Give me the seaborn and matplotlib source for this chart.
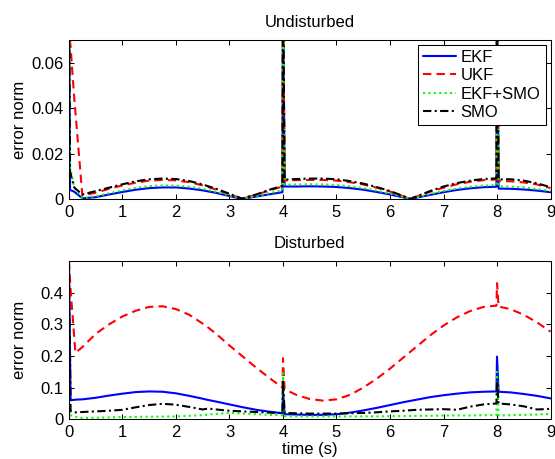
import matplotlib
matplotlib.use("Agg")
import matplotlib.pyplot as plt
import seaborn as sns
import numpy as np

# ---------------- data ----------------
series_names = ["EKF", "UKF", "EKF+SMO", "SMO"]

t_top = [0, 0.02, 0.1, 0.25, 0.5, 0.75, 1.0, 1.25, 1.5, 1.75, 2.0, 2.25, 2.5, 2.75, 3.0, 3.23,
         3.5, 3.75, 3.99, 4.0, 4.03, 4.25, 4.5, 4.75, 5.0, 5.25, 5.5, 5.75, 6.0, 6.25, 6.38,
         6.5, 6.75, 7.0, 7.25, 7.5, 7.75, 7.99, 8.0, 8.03, 8.25, 8.5, 8.75, 9.0]

ekf_top = [0.1, 0.004, 0.0032, 0.0003, 0.0008, 0.002, 0.0031, 0.0041, 0.0048, 0.0051, 0.0051, 0.0046,
           0.0038, 0.0027, 0.0013, 0.0, 0.0011, 0.0021, 0.003, 0.1, 0.0055, 0.0055, 0.0056, 0.0055,
           0.0053, 0.0048, 0.0041, 0.0031, 0.002, 0.0007, 0.0, 0.0006, 0.0018, 0.003, 0.004, 0.0047,
           0.0052, 0.0054, 0.1, 0.0046, 0.0045, 0.0042, 0.0037, 0.003]
ukf_top = [0.1, 0.07, 0.044, 0.0015, 0.0028, 0.0045, 0.006, 0.0072, 0.0081, 0.0084, 0.0082, 0.0074,
           0.006, 0.0042, 0.0021, 0.0002, 0.0019, 0.0038, 0.0055, 0.1, 0.0081, 0.0083, 0.0084, 0.0084,
           0.0081, 0.0074, 0.0064, 0.005, 0.0033, 0.0012, 0.0001, 0.0011, 0.0032, 0.005, 0.0065, 0.0076,
           0.0083, 0.0086, 0.1, 0.0079, 0.0078, 0.0073, 0.0064, 0.0048]
ekfsmo_top = [0.1, 0.014, 0.005, 0.0004, 0.0012, 0.0025, 0.0038, 0.0049, 0.0057, 0.006, 0.0059, 0.0054,
              0.0045, 0.0032, 0.0016, 0.0001, 0.0013, 0.0026, 0.0038, 0.1, 0.0063, 0.0064, 0.0065, 0.0064,
              0.0062, 0.0056, 0.0048, 0.0037, 0.0024, 0.0009, 0.0001, 0.0007, 0.0022, 0.0035, 0.0046, 0.0054,
              0.0059, 0.0061, 0.1, 0.0056, 0.0055, 0.0051, 0.0044, 0.0035]
smo_top = [0.1, 0.012, 0.005, 0.002, 0.0035, 0.005, 0.0065, 0.0078, 0.0087, 0.009, 0.0088, 0.0079,
           0.0064, 0.0045, 0.0023, 0.0002, 0.002, 0.0041, 0.0058, 0.1, 0.0085, 0.0088, 0.009, 0.009,
           0.0087, 0.0079, 0.0068, 0.0053, 0.0035, 0.0013, 0.0001, 0.0012, 0.0035, 0.0055, 0.007, 0.0081,
           0.0088, 0.0091, 0.1, 0.0086, 0.0087, 0.0081, 0.0069, 0.0052]

t_bot = [0, 0.03, 0.12, 0.25, 0.5, 0.75, 1.0, 1.25, 1.5, 1.75, 2.0, 2.25, 2.5, 2.6, 2.75, 3.0, 3.25,
         3.5, 3.75, 3.99, 4.0, 4.03, 4.25, 4.5, 4.75, 5.0, 5.25, 5.5, 5.75, 6.0, 6.25, 6.5, 6.75,
         7.0, 7.25, 7.5, 7.75, 7.99, 8.0, 8.03, 8.25, 8.5, 8.75, 9.0]

ekf_bot = [0.48, 0.06, 0.062, 0.063, 0.068, 0.075, 0.081, 0.086, 0.088, 0.087, 0.082, 0.074, 0.065,
           0.061, 0.056, 0.047, 0.038, 0.03, 0.024, 0.019, 0.09, 0.016, 0.015, 0.014, 0.014, 0.016,
           0.021, 0.028, 0.036, 0.045, 0.054, 0.062, 0.07, 0.076, 0.081, 0.085, 0.087, 0.088, 0.198,
           0.087, 0.085, 0.08, 0.074, 0.066]
ukf_bot = [0.5, 0.41, 0.21, 0.228, 0.27, 0.3, 0.325, 0.343, 0.355, 0.357, 0.348, 0.33, 0.302, 0.29,
           0.27, 0.233, 0.198, 0.163, 0.13, 0.1, 0.193, 0.095, 0.077, 0.064, 0.059, 0.063, 0.077, 0.1,
           0.128, 0.16, 0.195, 0.23, 0.265, 0.296, 0.322, 0.342, 0.355, 0.359, 0.43, 0.356, 0.348,
           0.33, 0.306, 0.277]
ekfsmo_bot = [0.1, 0.013, 0.008, 0.004, 0.005, 0.006, 0.007, 0.0075, 0.008, 0.0085, 0.009, 0.011,
              0.013, 0.015, 0.017, 0.02, 0.018, 0.016, 0.014, 0.013, 0.146, 0.01, 0.009, 0.009, 0.009,
              0.009, 0.009, 0.009, 0.009, 0.01, 0.01, 0.011, 0.011, 0.012, 0.012, 0.012, 0.013, 0.013,
              0.15, 0.012, 0.013, 0.014, 0.015, 0.017]
smo_bot = [0.48, 0.025, 0.022, 0.023, 0.025, 0.027, 0.03, 0.038, 0.045, 0.049, 0.046, 0.039, 0.031,
           0.034, 0.031, 0.027, 0.025, 0.023, 0.021, 0.02, 0.124, 0.02, 0.019, 0.018, 0.018, 0.018,
           0.019, 0.02, 0.022, 0.025, 0.027, 0.03, 0.031, 0.032, 0.03, 0.04, 0.047, 0.05, 0.12, 0.05,
           0.047, 0.041, 0.031, 0.033]

x_ticks = [0, 1, 2, 3, 4, 5, 6, 7, 8, 9]
top_yticks = [0, 0.02, 0.04, 0.06]
top_ylabels = ["0", "0.02", "0.04", "0.06"]
bot_yticks = [0, 0.1, 0.2, 0.3, 0.4]
bot_ylabels = ["0", "0.1", "0.2", "0.3", "0.4"]

# ---------------- style ----------------
sns.set_theme(style="ticks")
plt.rcParams["font.family"] = ["Liberation Sans", "DejaVu Sans"]
plt.rcParams.update({
    "axes.edgecolor": "black",
    "axes.linewidth": 0.75,
    "xtick.direction": "in",
    "ytick.direction": "in",
    "xtick.top": True,
    "ytick.right": True,
    "xtick.major.size": 3.6,
    "ytick.major.size": 3.6,
    "xtick.major.width": 0.75,
    "ytick.major.width": 0.75,
    "xtick.color": "black",
    "ytick.color": "black",
    "xtick.labelsize": 12,
    "ytick.labelsize": 12,
    "text.color": "black",
    "axes.labelcolor": "black",
})

styles = [
    dict(color="#0000ff", linestyle="-"),
    dict(color="#ff0000", linestyle=(0, (4, 2.5))),
    dict(color="#00ff00", linestyle=(0, (1, 1.6))),
    dict(color="#000000", linestyle=(0, (4, 1.6, 1, 1.6))),
]

fig = plt.figure(figsize=(5.55, 4.59), dpi=100)
ax1 = fig.add_axes([0.1243, 0.5664, 0.8676, 0.3465])
ax2 = fig.add_axes([0.1243, 0.0865, 0.8676, 0.3449])

top_data = [ekf_top, ukf_top, ekfsmo_top, smo_top]
bot_data = [ekf_bot, ukf_bot, ekfsmo_bot, smo_bot]

for name, vals, st in zip(series_names, top_data, styles):
    sns.lineplot(x=t_top, y=vals, ax=ax1, label=name, linewidth=1.5, sort=False,
                 estimator=None, errorbar=None, **st)
for name, vals, st in zip(series_names, bot_data, styles):
    sns.lineplot(x=t_bot, y=vals, ax=ax2, linewidth=1.5, sort=False,
                 estimator=None, errorbar=None, **st)

for ax in (ax1, ax2):
    ax.set_xlim(0, 9)
    ax.set_xticks(x_ticks)
    ax.set_xticklabels([str(v) for v in x_ticks])
    for sp in ax.spines.values():
        sp.set_visible(True)
        sp.set_color("black")
        sp.set_linewidth(0.75)
    ax.tick_params(axis="both", which="both", direction="in", top=True, right=True, pad=4)
    ax.set_ylabel("error norm", fontsize=12)

ax1.set_ylim(0, 0.07)
ax1.set_yticks(top_yticks)
ax1.set_yticklabels(top_ylabels)
ax1.set_title("Undisturbed", fontsize=12, pad=9)

ax2.set_ylim(0, 0.5)
ax2.set_yticks(bot_yticks)
ax2.set_yticklabels(bot_ylabels)
ax2.set_title("Disturbed", fontsize=12, pad=9)
ax2.set_xlabel("time (s)", fontsize=12, labelpad=1.5)

ax2.get_legend() and ax2.get_legend().remove()
leg = ax1.legend(loc="upper right", fontsize=12, frameon=True, fancybox=False,
                 edgecolor="black", framealpha=1, borderpad=0.3, labelspacing=0.2,
                 handlelength=2.0, handletextpad=0.25, borderaxespad=0.3)
leg.get_frame().set_linewidth(0.75)

ax1.yaxis.set_label_coords(-0.088, 0.5)
ax2.yaxis.set_label_coords(-0.088, 0.5)

fig.savefig("out.png", dpi=100, facecolor="white")
